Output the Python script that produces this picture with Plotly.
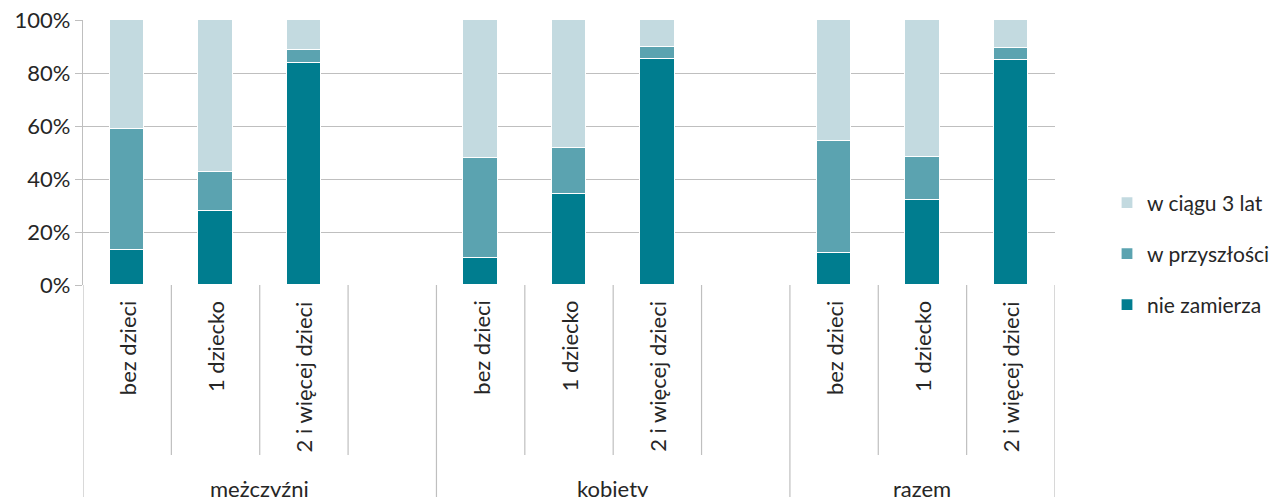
import plotly.graph_objects as go

groups = ["mężczyźni", "kobiety", "razem"]
subcats = ["bez dzieci", "1 dziecko", "2 i więcej dzieci"]
series_names = ["nie zamierza", "w przyszłości", "w ciągu 3 lat"]

# values in %, order: mężczyźni (3), kobiety (3), razem (3)
nie_zamierza = [13.2, 27.9, 83.8, 10.2, 34.3, 85.3, 12.1, 32.1, 84.9]
w_przyszlosci = [45.7, 14.7, 4.9, 37.7, 17.4, 4.5, 42.2, 16.2, 4.5]
w_ciagu_3_lat = [41.1, 57.4, 11.3, 52.1, 48.3, 10.2, 45.7, 51.7, 10.6]

y_tickvals = [0, 20, 40, 60, 80, 100]
y_ticktext = ["0%", "20%", "40%", "60%", "80%", "100%"]

colors = ["#007D8F", "#5BA3B0", "#C3DAE0"]
FONT = "Lato, 'Open Sans', sans-serif"

# x slot positions: each group takes 4 slots (3 bars + 1 gap)
xpos = []
for gi in range(len(groups)):
    for si in range(len(subcats)):
        xpos.append(gi * 4 + si)
n_slots = len(groups) * 4 - 1

fig = go.Figure()
legend_ids = ["legend3", "legend2", "legend"]
for name, vals, col, lg in zip(series_names, [nie_zamierza, w_przyszlosci, w_ciagu_3_lat], colors, legend_ids):
    fig.add_trace(go.Bar(
        x=xpos, y=vals, name=name, marker=dict(color=col, line=dict(color="white", width=1.2)),
        width=0.39, legend=lg,
    ))

# target plot area on screen: x 83..1055, y 20..285 (page has 8px body margin)
H = 265.0
W = 972.0
def py(pix):
    return (285 - pix) / H
def px(pix):
    return (pix - 83) / W

shapes = []
gray = "#BFBFBF"
for k in range(n_slots + 1):
    xb = k - 0.5
    long_line = (k % 4 == 0) or (k == n_slots)
    shapes.append(dict(type="line", xref="x", yref="paper", x0=xb, x1=xb,
                       y0=0, y1=py(505) if long_line else py(455),
                       line=dict(color=gray, width=1.2)))

annotations = []
for gi, g in enumerate(groups):
    for si, s in enumerate(subcats):
        annotations.append(dict(x=gi * 4 + si, y=py(299), xref="x", yref="paper",
                                text=s, textangle=-90, showarrow=False,
                                xanchor="center", yanchor="top",
                                font=dict(family=FONT, size=22, color="#262626")))
    start = gi * 4 - 0.5
    end = min(gi * 4 + 3.5, n_slots - 0.5)
    annotations.append(dict(x=(start + end) / 2, y=py(488), xref="x", yref="paper",
                            text=g, showarrow=False, xanchor="center", yanchor="middle",
                            font=dict(family=FONT, size=22, color="#262626")))

leg_common = dict(font=dict(family=FONT, size=21, color="#262626"), bgcolor="rgba(0,0,0,0)",
                  xanchor="left", yanchor="middle", x=px(1107), itemwidth=30)
fig.update_layout(
    width=1282, height=497,
    margin=dict(l=75, r=235, t=12, b=220, autoexpand=False),
    plot_bgcolor="white", paper_bgcolor="white",
    barmode="stack", bargap=0,
    showlegend=True,
    legend=dict(y=py(203), **leg_common),
    legend2=dict(y=py(254), **leg_common),
    legend3=dict(y=py(305), **leg_common),
    xaxis=dict(range=[-0.5, n_slots - 0.5], showticklabels=False, showgrid=False,
               zeroline=False, showline=False, ticks="", automargin=False),
    yaxis=dict(range=[0, 100], tickvals=y_tickvals, ticktext=y_ticktext,
               ticklabeloverflow="allow",
               showgrid=True, gridcolor=gray, gridwidth=1.3, automargin=False,
               zeroline=False, showline=True, linecolor=gray, linewidth=1.2,
               ticks="outside", ticklen=7, tickcolor=gray,
               tickfont=dict(family=FONT, size=22, color="#262626")),
    shapes=shapes, annotations=annotations,
)
fig.write_html("out.html")
